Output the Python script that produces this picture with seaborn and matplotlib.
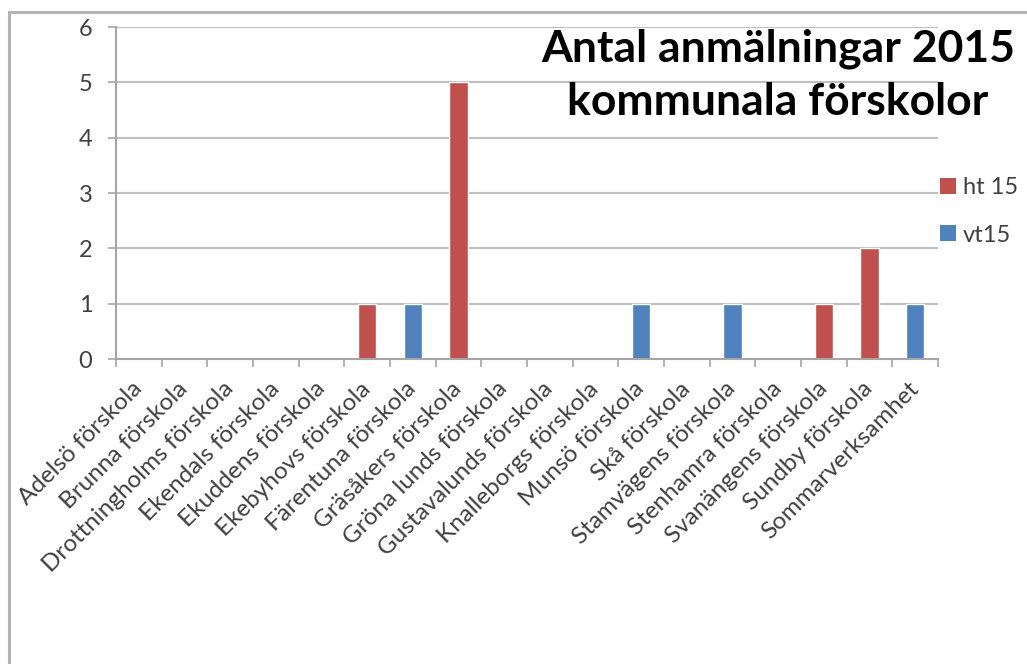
import numpy as np
import pandas as pd
import matplotlib
matplotlib.use("Agg")
import matplotlib.pyplot as plt
from matplotlib.patches import Patch, Rectangle
import seaborn as sns

# Chart data
schools = [
    "Adelsö förskola", "Brunna förskola", "Drottningholms förskola",
    "Ekendals förskola", "Ekuddens förskola", "Ekebyhovs förskola",
    "Färentuna förskola", "Gräsåkers förskola", "Gröna lunds förskola",
    "Gustavalunds förskola", "Knalleborgs förskola", "Munsö förskola",
    "Skå förskola", "Stamvägens förskola", "Stenhamra förskola",
    "Svanängens förskola", "Sundby förskola", "Sommarverksamhet",
]
ht15 = [0, 0, 0, 0, 0, 1, 0, 5, 0, 0, 0, 0, 0, 0, 0, 1, 2, 0]
vt15 = [0, 0, 0, 0, 0, 0, 1, 0, 0, 0, 0, 1, 0, 1, 0, 0, 0, 1]
series = ["ht 15", "vt15"]
colors = {"ht 15": "#C0504D", "vt15": "#4F81BD"}
title = "Antal anmälningar 2015\nkommunala förskolor"

df = pd.concat([
    pd.DataFrame({"school": schools, "period": "ht 15", "count": ht15}),
    pd.DataFrame({"school": schools, "period": "vt15", "count": vt15}),
])

sns.set_style("white")
plt.rcParams["font.family"] = ["Lato", "DejaVu Sans"]

W, H = 1027, 664
fig = plt.figure(figsize=(W / 100, H / 100), dpi=100)
ax = fig.add_axes([116 / W, (H - 359) / H, 822 / W, 332 / H])

# only one series is non-zero per school, so bars sit centred (Excel overlap look)
sns.barplot(data=df, x="school", y="count", hue="period", order=schools,
            hue_order=series, palette=colors, dodge=False, width=0.4,
            saturation=1, legend=False, ax=ax)

ax.set_ylim(0, 6)
ax.set_xlim(-0.5, len(schools) - 0.5)
ax.set_yticks(range(0, 7))
ax.yaxis.grid(True, color="#BFBFBF", linewidth=1.5)
ax.set_axisbelow(True)
ax.set_xlabel("")
ax.set_ylabel("")

for side in ["top", "right"]:
    ax.spines[side].set_visible(False)
for side in ["left", "bottom"]:
    ax.spines[side].set_color("#A6A6A6")
    ax.spines[side].set_linewidth(1.5)

ax.tick_params(axis="y", length=6, width=1.2, color="#A6A6A6", direction="out",
               labelsize=17, labelcolor="#404040", pad=11, left=True)
ax.set_xticks(np.arange(-0.5, len(schools), 1), minor=True)
ax.tick_params(axis="x", which="major", length=0, labelsize=17.5,
               labelcolor="#404040", pad=19)
ax.tick_params(axis="x", which="minor", length=6, width=1.2, color="#A6A6A6",
               direction="out", bottom=True)
for lbl in ax.get_xticklabels():
    lbl.set_rotation(45)
    lbl.set_ha("right")
    lbl.set_va("center")
    lbl.set_rotation_mode("anchor")

fig.text(778 / W, 1 - 75.5 / H, title, ha="center", va="center",
         fontsize=32, fontweight="bold", color="black", linespacing=1.38)

handles = [Patch(facecolor=colors[s], edgecolor="none", label=s) for s in series]
ax.legend(handles=handles, loc="upper left", bbox_to_anchor=(1.003, 0.548),
          frameon=False, fontsize=17, handlelength=0.65, handleheight=0.65,
          handletextpad=0.3, labelspacing=1.12, borderpad=0, borderaxespad=0,
          labelcolor="#404040")

# outer chart border (top and left edges visible in the screenshot)
fig.patches.append(Rectangle((8.5 / W, -0.2), 1.2, 1.2 - 11.5 / H,
                             transform=fig.transFigure, fill=False,
                             edgecolor="#B4B4B4", linewidth=2.2))

fig.savefig("out.png", dpi=100)
